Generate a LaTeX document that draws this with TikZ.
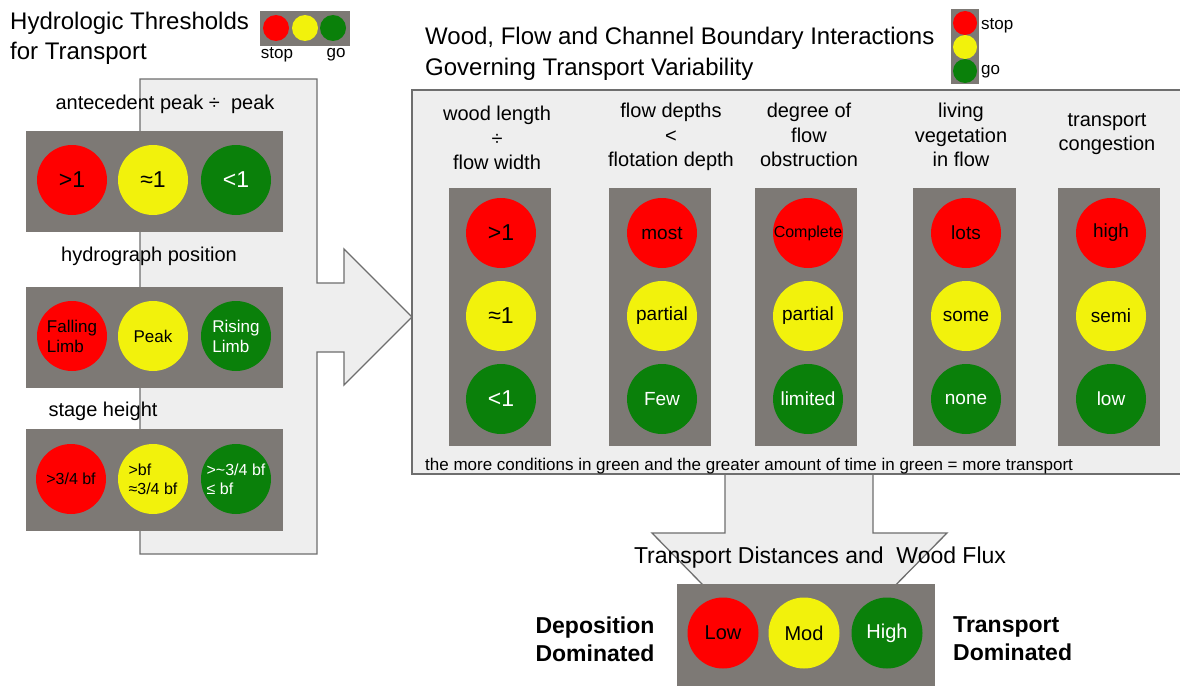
\documentclass[tikz,border=0pt]{standalone}
\usepackage{fontspec}
\setmainfont{Liberation Sans}
\definecolor{lampred}{HTML}{FF0000}
\definecolor{lampyel}{HTML}{F2F20C}
\definecolor{lampgrn}{HTML}{0A800A}
\definecolor{panelg}{HTML}{7D7975}
\definecolor{lightg}{HTML}{EEEEEE}
\definecolor{edgeg}{HTML}{6E6E6E}
\tikzset{
  lamp/.style={circle, minimum size=70pt, inner sep=0pt, align=center, font=\fontsize{19}{21}\selectfont},
  rl/.style={lamp, fill=lampred, text=black},
  yl/.style={lamp, fill=lampyel, text=black},
  gl/.style={lamp, fill=lampgrn, text=white},
  panel/.style={fill=panelg},
  body/.style={fill=lightg, draw=edgeg, line width=1.3pt},
  lbl/.style={inner sep=0pt, align=center, font=\fontsize{20}{24.5}\selectfont},
  bigt/.style={inner sep=0pt, align=left, font=\fontsize{24}{30}\selectfont},
}
\begin{document}
\begin{tikzpicture}[x=1pt,y=-1pt]
\useasboundingbox (0,0) rectangle (1180,685);
\fill[white] (0,0) rectangle (1180,685);

% ---------- left arrow body ----------
\draw[body] (140,79) -- (317,79) -- (317,283) -- (344,283) -- (344,249) -- (412,317)
  -- (344,385) -- (344,352) -- (317,352) -- (317,554) -- (140,554) -- cycle;

% ---------- down arrow and right box ----------
\draw[body] (725,470) -- (873,470) -- (873,533) -- (947,533) -- (799,683) -- (652,533) -- (725,533) -- cycle;
\draw[body] (412,90) rectangle (1195,474);

% ---------- top-left title and legend ----------
\node[bigt, anchor=west] (ltitle) at (10,38) {Hydrologic Thresholds\\for Transport};
\fill[panelg] (260,11) rectangle (350,46);
\node[circle, fill=lampred, minimum size=26pt, inner sep=0pt] (lr) at (276,28) {};
\node[circle, fill=lampyel, minimum size=26pt, inner sep=0pt] (ly) at (305,28) {};
\node[circle, fill=lampgrn, minimum size=26pt, inner sep=0pt] (lg) at (333,28) {};
\node[inner sep=0pt, font=\fontsize{17}{20}\selectfont] (lstop) at (277,55) {stop};
\node[inner sep=0pt, font=\fontsize{17}{20}\selectfont] (lgo) at (336,55) {go};

% ---------- left panels ----------
\node[lbl] (t1) at (165,104) {antecedent peak ÷\ \ peak};
\fill[panel] (26,131) rectangle (283,232);
\node[rl, font=\fontsize{23}{26}\selectfont] (a1) at (72,180) {>1};
\node[yl, font=\fontsize{23}{26}\selectfont] (a2) at (153,180) {≈1};
\node[gl, font=\fontsize{23}{26}\selectfont] (a3) at (236,180) {<1};

\node[lbl] (t2) at (149,256) {hydrograph position};
\fill[panel] (26,287) rectangle (283,388);
\node[rl, font=\fontsize{17}{20}\selectfont, align=left] (b1) at (72,336) {Falling\\Limb};
\node[yl, font=\fontsize{17}{20}\selectfont] (b2) at (153,336) {Peak};
\node[gl, font=\fontsize{17}{20}\selectfont, align=left] (b3) at (236,336) {Rising\\Limb};

\node[lbl] (t3) at (103,411) {stage height};
\fill[panel] (26,429) rectangle (283,531);
\node[rl, font=\fontsize{16}{19}\selectfont] (c1) at (71,479) {>3/4 bf};
\node[yl, font=\fontsize{16}{19}\selectfont, align=left] (c2) at (153,479) {>bf\\≈3/4 bf};
\node[gl, font=\fontsize{16}{19}\selectfont, align=left] (c3) at (236,479) {>\textasciitilde3/4 bf\\≤ bf};

% ---------- right title and legend ----------
\node[bigt, anchor=west, font=\fontsize{24}{31}\selectfont] (rtitle) at (425,54) {Wood, Flow and Channel Boundary Interactions\\Governing Transport Variability};
\fill[panelg] (951,9) rectangle (979,84);
\node[circle, fill=lampred, minimum size=24pt, inner sep=0pt] (rr) at (965,23) {};
\node[circle, fill=lampyel, minimum size=24pt, inner sep=0pt] (ry) at (965,47) {};
\node[circle, fill=lampgrn, minimum size=24pt, inner sep=0pt] (rg) at (965,71) {};
\node[inner sep=0pt, anchor=west, font=\fontsize{17}{20}\selectfont] (rstop) at (981,26) {stop};
\node[inner sep=0pt, anchor=west, font=\fontsize{17}{20}\selectfont] (rgo) at (981,72) {go};

% ---------- column labels ----------
\node[lbl] (h1) at (497,138) {wood length\\÷\\flow width};
\node[lbl] (h2) at (671,137) {flow depths\\<\\flotation depth};
\node[lbl] (h3) at (809,135) {degree of\\flow\\obstruction};
\node[lbl] (h4) at (961,135) {living\\vegetation\\in flow};
\node[lbl] (h5) at (1107,134) {transport\\congestion};

% ---------- columns ----------
\fill[panel] (449,188) rectangle (551,446);
\fill[panel] (609,188) rectangle (711,446);
\fill[panel] (755,188) rectangle (857,446);
\fill[panel] (913,188) rectangle (1016,446);
\fill[panel] (1058,188) rectangle (1160,446);

\node[rl, font=\fontsize{23}{26}\selectfont] (d1) at (501,233) {>1};
\node[yl, font=\fontsize{23}{26}\selectfont] (d2) at (501,316) {≈1};
\node[gl, font=\fontsize{23}{26}\selectfont] (d3) at (501,399) {<1};

\node[rl] (e1) at (662,233) {most};
\node[yl] (e2) at (662,316) {partial};
\node[gl] (e3) at (662,399) {Few};

\node[rl, font=\fontsize{16}{19}\selectfont] (f1) at (808,233) {Complete};
\node[yl] (f2) at (808,316) {partial};
\node[gl] (f3) at (808,399) {limited};

\node[rl] (g1) at (966,233) {lots};
\node[yl] (g2) at (966,316) {some};
\node[gl] (g3) at (966,399) {none};

\node[rl] (k1) at (1111,233) {high};
\node[yl] (k2) at (1111,316) {semi};
\node[gl] (k3) at (1111,399) {low};

\node[inner sep=0pt, anchor=west, font=\fontsize{17}{19}\selectfont] (note) at (425,466)
  {the more conditions in green and the greater amount of time in green = more transport};

% ---------- bottom result ----------
\node[inner sep=0pt, font=\fontsize{23}{27}\selectfont] (flux) at (820,558) {Transport Distances and\ \ Wood Flux};
\fill[panel] (677,584) rectangle (935,690);
\node[rl, minimum size=71pt, font=\fontsize{20}{23}\selectfont] (m1) at (723,633) {Low};
\node[yl, minimum size=71pt, font=\fontsize{20}{23}\selectfont] (m2) at (804,633) {Mod};
\node[gl, minimum size=71pt, font=\fontsize{20}{23}\selectfont] (m3) at (887,633) {High};
\node[inner sep=0pt, align=right, font=\bfseries\fontsize{23}{28}\selectfont] (dep) at (595,639) {Deposition\\Dominated};
\node[inner sep=0pt, anchor=west, align=left, font=\bfseries\fontsize{23}{28}\selectfont] (tra) at (953,639) {Transport\\Dominated};
\end{tikzpicture}
\end{document}
